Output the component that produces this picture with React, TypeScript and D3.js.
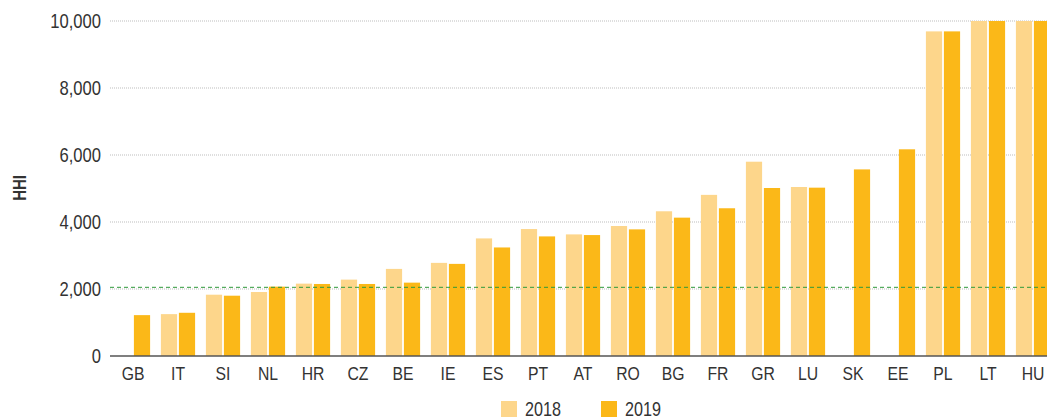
import * as d3 from "d3";

const WIDTH = 1047;
const HEIGHT = 420;

const countries = ["GB", "IT", "SI", "NL", "HR", "CZ", "BE", "IE", "ES", "PT", "AT", "RO", "BG", "FR", "GR", "LU", "SK", "EE", "PL", "LT", "HU"];
const hhi2018 = [null, 1250, 1830, 1910, 2160, 2280, 2600, 2780, 3510, 3790, 3630, 3880, 4320, 4810, 5800, 5045, null, null, 9690, 10000, 10000];
const hhi2019 = [1220, 1290, 1800, 2070, 2150, 2150, 2190, 2750, 3240, 3570, 3610, 3780, 4130, 4410, 5015, 5025, 5570, 6170, 9690, 10000, 10000];
const years = ["2018", "2019"];
const yTicks = [0, 2000, 4000, 6000, 8000, 10000];
const THRESHOLD = 2050;

const COLORS: Record<string, string> = { "2018": "#fdd68b", "2019": "#fbb818" };
const FONT = "'Liberation Sans', Arial, sans-serif";
// the reference uses a narrow face; squeeze regular Liberation Sans instead
const NARROW = 0.83;

const PLOT = { left: 110, top: 21, bottom: 356 };

// text squeezed horizontally around its anchor point
const Label = ({ x, y, anchor = "start", size = 20, weight = "normal", children }: any) => (
  <g transform={`translate(${x},${y}) scale(${NARROW},1)`}>
    <text textAnchor={anchor} fontSize={size} fontWeight={weight} fill="#333">
      {children}
    </text>
  </g>
);

export default function App() {
  const x = d3
    .scaleBand()
    .domain(countries)
    .range([110.5, 1055.5])
    .paddingInner(0.24)
    .paddingOuter(0.12);

  const xSub = d3.scaleBand().domain(years).range([0, x.bandwidth()]).paddingInner(0.1);

  const y = d3.scaleLinear().domain([0, 10000]).range([PLOT.bottom, PLOT.top]);
  const fmt = d3.format(",");

  const series: Record<string, (number | null)[]> = { "2018": hhi2018, "2019": hhi2019 };

  return (
    <svg width={WIDTH} height={HEIGHT} style={{ position: "absolute", left: 0, top: 0 }} fontFamily={FONT}>
      {/* gridlines */}
      {yTicks.filter((t) => t > 0).map((t) => (
        <line key={t} x1={PLOT.left} x2={WIDTH} y1={y(t)} y2={y(t)} stroke="#bdbdbd" strokeWidth={1} strokeDasharray="1,1" />
      ))}
      {yTicks.map((t) => (
        <Label key={"l" + t} x={101} y={y(t) + 7} anchor="end" size={20}>
          {fmt(t)}
        </Label>
      ))}
      <g transform="translate(26,188) rotate(-90)">
        <Label x={0} y={0} anchor="middle" size={18} weight="bold">
          HHI
        </Label>
      </g>

      {countries.map((c, i) => (
        <g key={c} transform={`translate(${x(c)},0)`}>
          {years.map((yr) => {
            const v = series[yr][i];
            if (v == null) return null;
            return (
              <rect key={yr} x={xSub(yr)} y={y(v)} width={xSub.bandwidth()} height={y(0) - y(v)} fill={COLORS[yr]} />
            );
          })}
        </g>
      ))}

      <line x1={PLOT.left} x2={WIDTH} y1={y(THRESHOLD)} y2={y(THRESHOLD)} stroke="#2f9a3a" strokeWidth={1} strokeDasharray="4,3" />
      <line x1={PLOT.left} x2={WIDTH} y1={y(0)} y2={y(0)} stroke="#555" strokeWidth={1.5} />

      {countries.map((c) => (
        <Label key={"x" + c} x={(x(c) ?? 0) + x.bandwidth() / 2} y={380} anchor="middle" size={19}>
          {c}
        </Label>
      ))}

      {years.map((yr, i) => (
        <g key={"lg" + yr} transform={`translate(${501 + i * 100},401)`}>
          <rect width={16} height={16} fill={COLORS[yr]} />
          <Label x={24} y={15} size={19.5}>
            {yr}
          </Label>
        </g>
      ))}
    </svg>
  );
}
